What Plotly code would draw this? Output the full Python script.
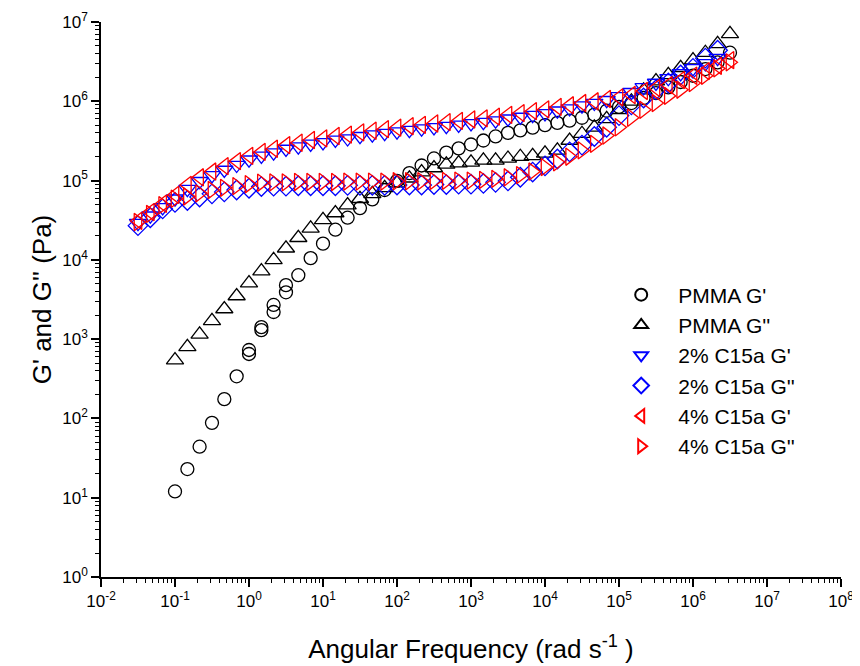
import plotly.graph_objects as go

# ---- data ----
pmma_w = [0.1, 0.147, 0.215, 0.316, 0.464, 0.681, 1.0, 1.0, 1.47, 1.47, 2.15, 2.15, 3.16, 3.16,
          4.64, 6.81, 10.0, 14.7, 21.5, 31.6, 46.4, 68.1, 100, 147, 215, 316, 464, 681,
          1000, 1470, 2150, 3160, 4640, 6810, 10000, 14700, 21500, 31600, 46400, 68100,
          100000, 147000, 215000, 316000, 464000, 681000, 1000000, 1470000, 2150000, 3160000]
pmma_gp = [12, 23, 44, 88, 175, 340, 730, 650, 1300, 1420, 2200, 2700, 3900, 4800,
           6400, 10500, 16000, 24000, 34000, 45000, 58000, 76000, 99000, 124000, 155000, 190000,
           225000, 255000, 285000, 320000, 360000, 400000, 430000, 465000, 500000, 535000,
           570000, 620000, 680000, 760000, 850000, 950000, 1100000, 1270000, 1500000, 1750000,
           2100000, 2550000, 3100000, 4100000]

pmma_w2 = [0.1, 0.147, 0.215, 0.316, 0.464, 0.681, 1.0, 1.47, 2.15, 3.16, 4.64, 6.81, 10.0, 14.7,
           21.5, 31.6, 46.4, 68.1, 100, 147, 215, 316, 464, 681, 1000, 1470, 2150, 3160, 4640,
           6810, 10000, 14700, 21500, 31600, 46400, 68100, 100000, 147000, 215000, 316000,
           464000, 681000, 1000000, 1470000, 2150000, 3160000]
pmma_gpp = [545, 800, 1150, 1700, 2400, 3500, 5100, 7200, 10000, 14000, 19000, 25000, 32000,
            39000, 49000, 59000, 68000, 81000, 93000, 107000, 128000, 144000, 160000, 166000,
            170000, 180000, 180000, 190000, 200000, 205000, 220000, 240000, 320000, 390000,
            470000, 600000, 780000, 1000000, 1380000, 1800000, 2150000, 2650000, 3300000,
            4100000, 5300000, 7100000]

c15_w = [0.0316, 0.0464, 0.0681, 0.1, 0.147, 0.215, 0.316, 0.464, 0.681, 1.0, 1.47, 2.15, 3.16,
         4.64, 6.81, 10.0, 14.7, 21.5, 31.6, 46.4, 68.1, 100, 147, 215, 316, 464, 681, 1000,
         1470, 2150, 3160, 4640, 6810, 10000, 14700, 21500, 31600, 46400, 68100, 100000,
         147000, 215000, 316000, 464000, 681000, 1000000, 1470000, 2150000, 3160000]

c4_gp = [31000, 40000, 51000, 66000, 88000, 110000, 130000, 152000, 176000, 205000, 230000,
         252000, 280000, 300000, 325000, 340000, 365000, 380000, 405000, 425000, 445000, 465000,
         485000, 505000, 525000, 545000, 565000, 590000, 610000, 640000, 675000, 710000, 750000,
         790000, 850000, 890000, 950000, 1000000, 1070000, 1120000, 1200000, 1350000, 1470000,
         1600000, 1850000, 2100000, 2400000, 2800000, 3300000]
c4_gpp = [30000, 38000, 49000, 59000, 63000, 69000, 76000, 81000, 85000, 90000, 94000, 95000,
          95000, 96000, 96000, 96000, 96000, 97000, 97000, 97000, 97000, 98000, 98000, 98000,
          99000, 99000, 100000, 100000, 102000, 105000, 110000, 117000, 130000, 148000, 170000,
          200000, 240000, 290000, 370000, 470000, 620000, 780000, 950000, 1170000, 1400000,
          1700000, 2100000, 2600000, 3100000]

c2_w = c15_w[:-1]
c2_gp = [29000, 36000, 46000, 59000, 78000, 98000, 116000, 136000, 157000, 183000, 205000,
         225000, 250000, 268000, 290000, 303000, 326000, 339000, 362000, 380000, 397000, 415000,
         433000, 451000, 469000, 487000, 504000, 527000, 545000, 571000, 602000, 634000, 668000,
         704000, 760000, 810000, 880000, 950000, 1030000, 1150000, 1300000, 1500000, 1700000,
         1950000, 2250000, 2600000, 3000000, 3500000]
c2_gpp = [27000, 34000, 44000, 53000, 56000, 62000, 68000, 72000, 76000, 80000, 84000, 85000,
          85000, 86000, 86000, 86000, 86000, 87000, 87000, 87000, 87000, 88000, 88000, 88000,
          89000, 89000, 90000, 90000, 92000, 95000, 99000, 110000, 128000, 153000, 187000,
          230000, 280000, 360000, 470000, 660000, 900000, 1100000, 1400000, 1700000, 2150000,
          2600000, 3500000, 4400000]

names = ["PMMA G'", "PMMA G''", "2% C15a G'", "2% C15a G''", "4% C15a G'", "4% C15a G''"]

xticks = [0.01, 0.1, 1, 10, 100, 1000, 1e4, 1e5, 1e6, 1e7, 1e8]
xticktext = ["10<sup>-2</sup>", "10<sup>-1</sup>", "10<sup>0</sup>", "10<sup>1</sup>",
             "10<sup>2</sup>", "10<sup>3</sup>", "10<sup>4</sup>", "10<sup>5</sup>",
             "10<sup>6</sup>", "10<sup>7</sup>", "10<sup>8</sup>"]
yticks = [1, 10, 100, 1000, 1e4, 1e5, 1e6, 1e7]
yticktext = ["10<sup>0</sup>", "10<sup>1</sup>", "10<sup>2</sup>", "10<sup>3</sup>",
             "10<sup>4</sup>", "10<sup>5</sup>", "10<sup>6</sup>", "10<sup>7</sup>"]

FONT = "Liberation Sans, Arial, sans-serif"

series = [
    (pmma_w, pmma_gp, "circle-open", "black", 13),
    (pmma_w2, pmma_gpp, "triangle-up-open", "black", 15),
    (c2_w, c2_gp, "triangle-down-open", "blue", 15),
    (c2_w, c2_gpp, "diamond-open", "blue", 15),
    (c15_w, c4_gp, "triangle-left-open", "red", 15),
    (c15_w, c4_gpp, "triangle-right-open", "red", 15),
]

fig = go.Figure()
for (xs, ys, sym, col, sz), nm in zip(series, names):
    fig.add_trace(go.Scatter(
        x=xs, y=ys, mode="markers", name=nm,
        marker=dict(symbol=sym, size=sz, color=col, line=dict(color=col, width=1.3)),
    ))

axis_common = dict(
    type="log", showgrid=False, zeroline=False, showline=True, linecolor="black",
    linewidth=1.5, ticks="outside", ticklen=8, tickwidth=1.5, tickcolor="black",
    tickfont=dict(family=FONT, size=17, color="black"), mirror=False,
    minor=dict(ticks="outside", ticklen=4, tickwidth=1, tickcolor="black", dtick="D1", showgrid=False),
    automargin=False,
)

fig.update_xaxes(range=[-2, 8], tickmode="array", tickvals=xticks, ticktext=xticktext,
                 title=dict(text="Angular Frequency (rad s<sup>-1</sup> )",
                            font=dict(family=FONT, size=26, color="black"), standoff=30),
                 **axis_common)
fig.update_yaxes(range=[0, 7], tickmode="array", tickvals=yticks, ticktext=yticktext,
                 title=dict(text="G' and G'' (Pa)",
                            font=dict(family=FONT, size=26, color="black"), standoff=3),
                 **axis_common)

fig.update_layout(
    width=852, height=658,
    margin=dict(l=93, r=19, t=14, b=89),
    plot_bgcolor="white", paper_bgcolor="white",
    font=dict(family=FONT, color="black"),
    legend=dict(x=0.68, y=0.545, xanchor="left", yanchor="top",
                font=dict(family=FONT, size=21, color="black"), itemwidth=64,
                bgcolor="rgba(0,0,0,0)", borderwidth=0, tracegroupgap=0, itemsizing="constant"),
)

fig.write_html("out.html")
